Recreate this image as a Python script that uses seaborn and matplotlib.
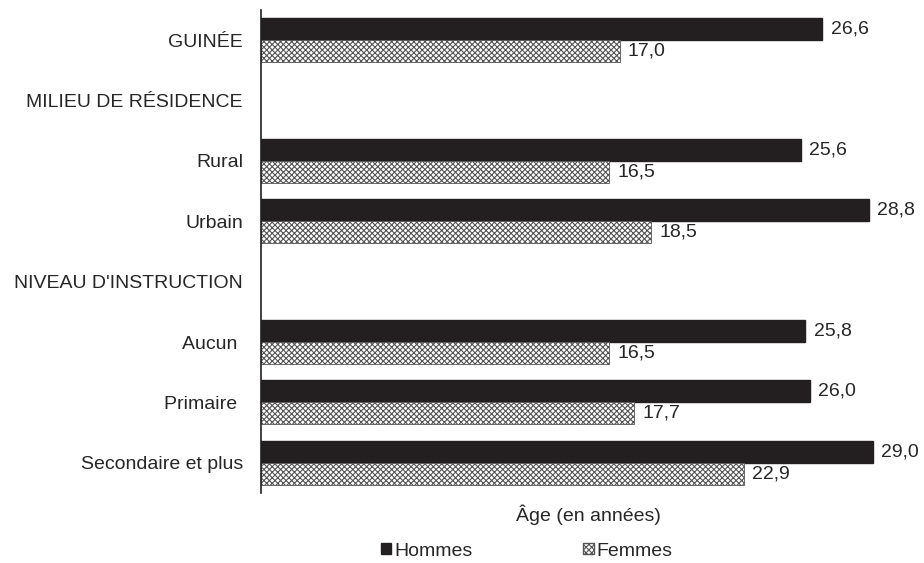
import matplotlib
matplotlib.use("Agg")
import matplotlib.pyplot as plt
import numpy as np
import pandas as pd
import seaborn as sns
from matplotlib.patches import Patch

categories = ["GUINÉE", "MILIEU DE RÉSIDENCE", "Rural", "Urbain",
              "NIVEAU D'INSTRUCTION", "Aucun ", "Primaire ", "Secondaire et plus"]
hommes = [26.6, np.nan, 25.6, 28.8, np.nan, 25.8, 26.0, 29.0]
femmes = [17.0, np.nan, 16.5, 18.5, np.nan, 16.5, 17.7, 22.9]

df = pd.DataFrame({
    "categorie": categories * 2,
    "age": hommes + femmes,
    "sexe": ["Hommes"] * len(categories) + ["Femmes"] * len(categories),
})

sns.set_style("white")
plt.rcParams['font.family'] = ['Liberation Sans', 'DejaVu Sans']
plt.rcParams['hatch.color'] = '#8a8a8a'
plt.rcParams['hatch.linewidth'] = 0.8
fs = 14

fig = plt.figure(figsize=(9.24, 5.63), dpi=100)
ax = fig.add_axes([261 / 924, 1 - 493 / 563, (915 - 261) / 924, 483 / 563])

sns.barplot(data=df, y="categorie", x="age", hue="sexe", order=categories,
            hue_order=["Hommes", "Femmes"], palette=["#231f20", "white"],
            orient="h", width=0.73, ax=ax, legend=False, saturation=1)

for i, cont in enumerate(ax.containers):
    for bar in cont:
        if i == 1:
            bar.set_hatch("xxxxxx")
            bar.set_edgecolor("#555555")
            bar.set_linewidth(0.6)
        else:
            bar.set_edgecolor("#231f20")
    vals = [b.get_width() for b in cont]
    labels = ["" if np.isnan(v) else f"{v:.1f}".replace(".", ",") for v in vals]
    ax.bar_label(cont, labels=labels, padding=6, fontsize=fs)

ax.set_xlim(0, 31)
ax.set_ylim(len(categories) - 0.5, -0.5)
ax.set_xticks([])
ax.set_ylabel("")
ax.set_xlabel("Âge (en années)", fontsize=fs, labelpad=8)
ax.tick_params(axis="y", length=0, pad=13, labelsize=fs)
for s in ["top", "right", "bottom"]:
    ax.spines[s].set_visible(False)
ax.spines["left"].set_color("#231f20")
ax.spines["left"].set_linewidth(1.2)

handles = [Patch(facecolor="#231f20", edgecolor="#231f20", label="Hommes"),
           Patch(facecolor="white", edgecolor="#555555", hatch="xxxxxx", label="Femmes")]
fig.legend(handles=handles, loc="center", bbox_to_anchor=(0.57, 1 - 551 / 563), ncol=2,
           frameon=False, fontsize=fs, handlelength=0.55, handleheight=0.55,
           handletextpad=0.15, columnspacing=5.7, borderpad=0)

fig.savefig("out.png", dpi=100)
